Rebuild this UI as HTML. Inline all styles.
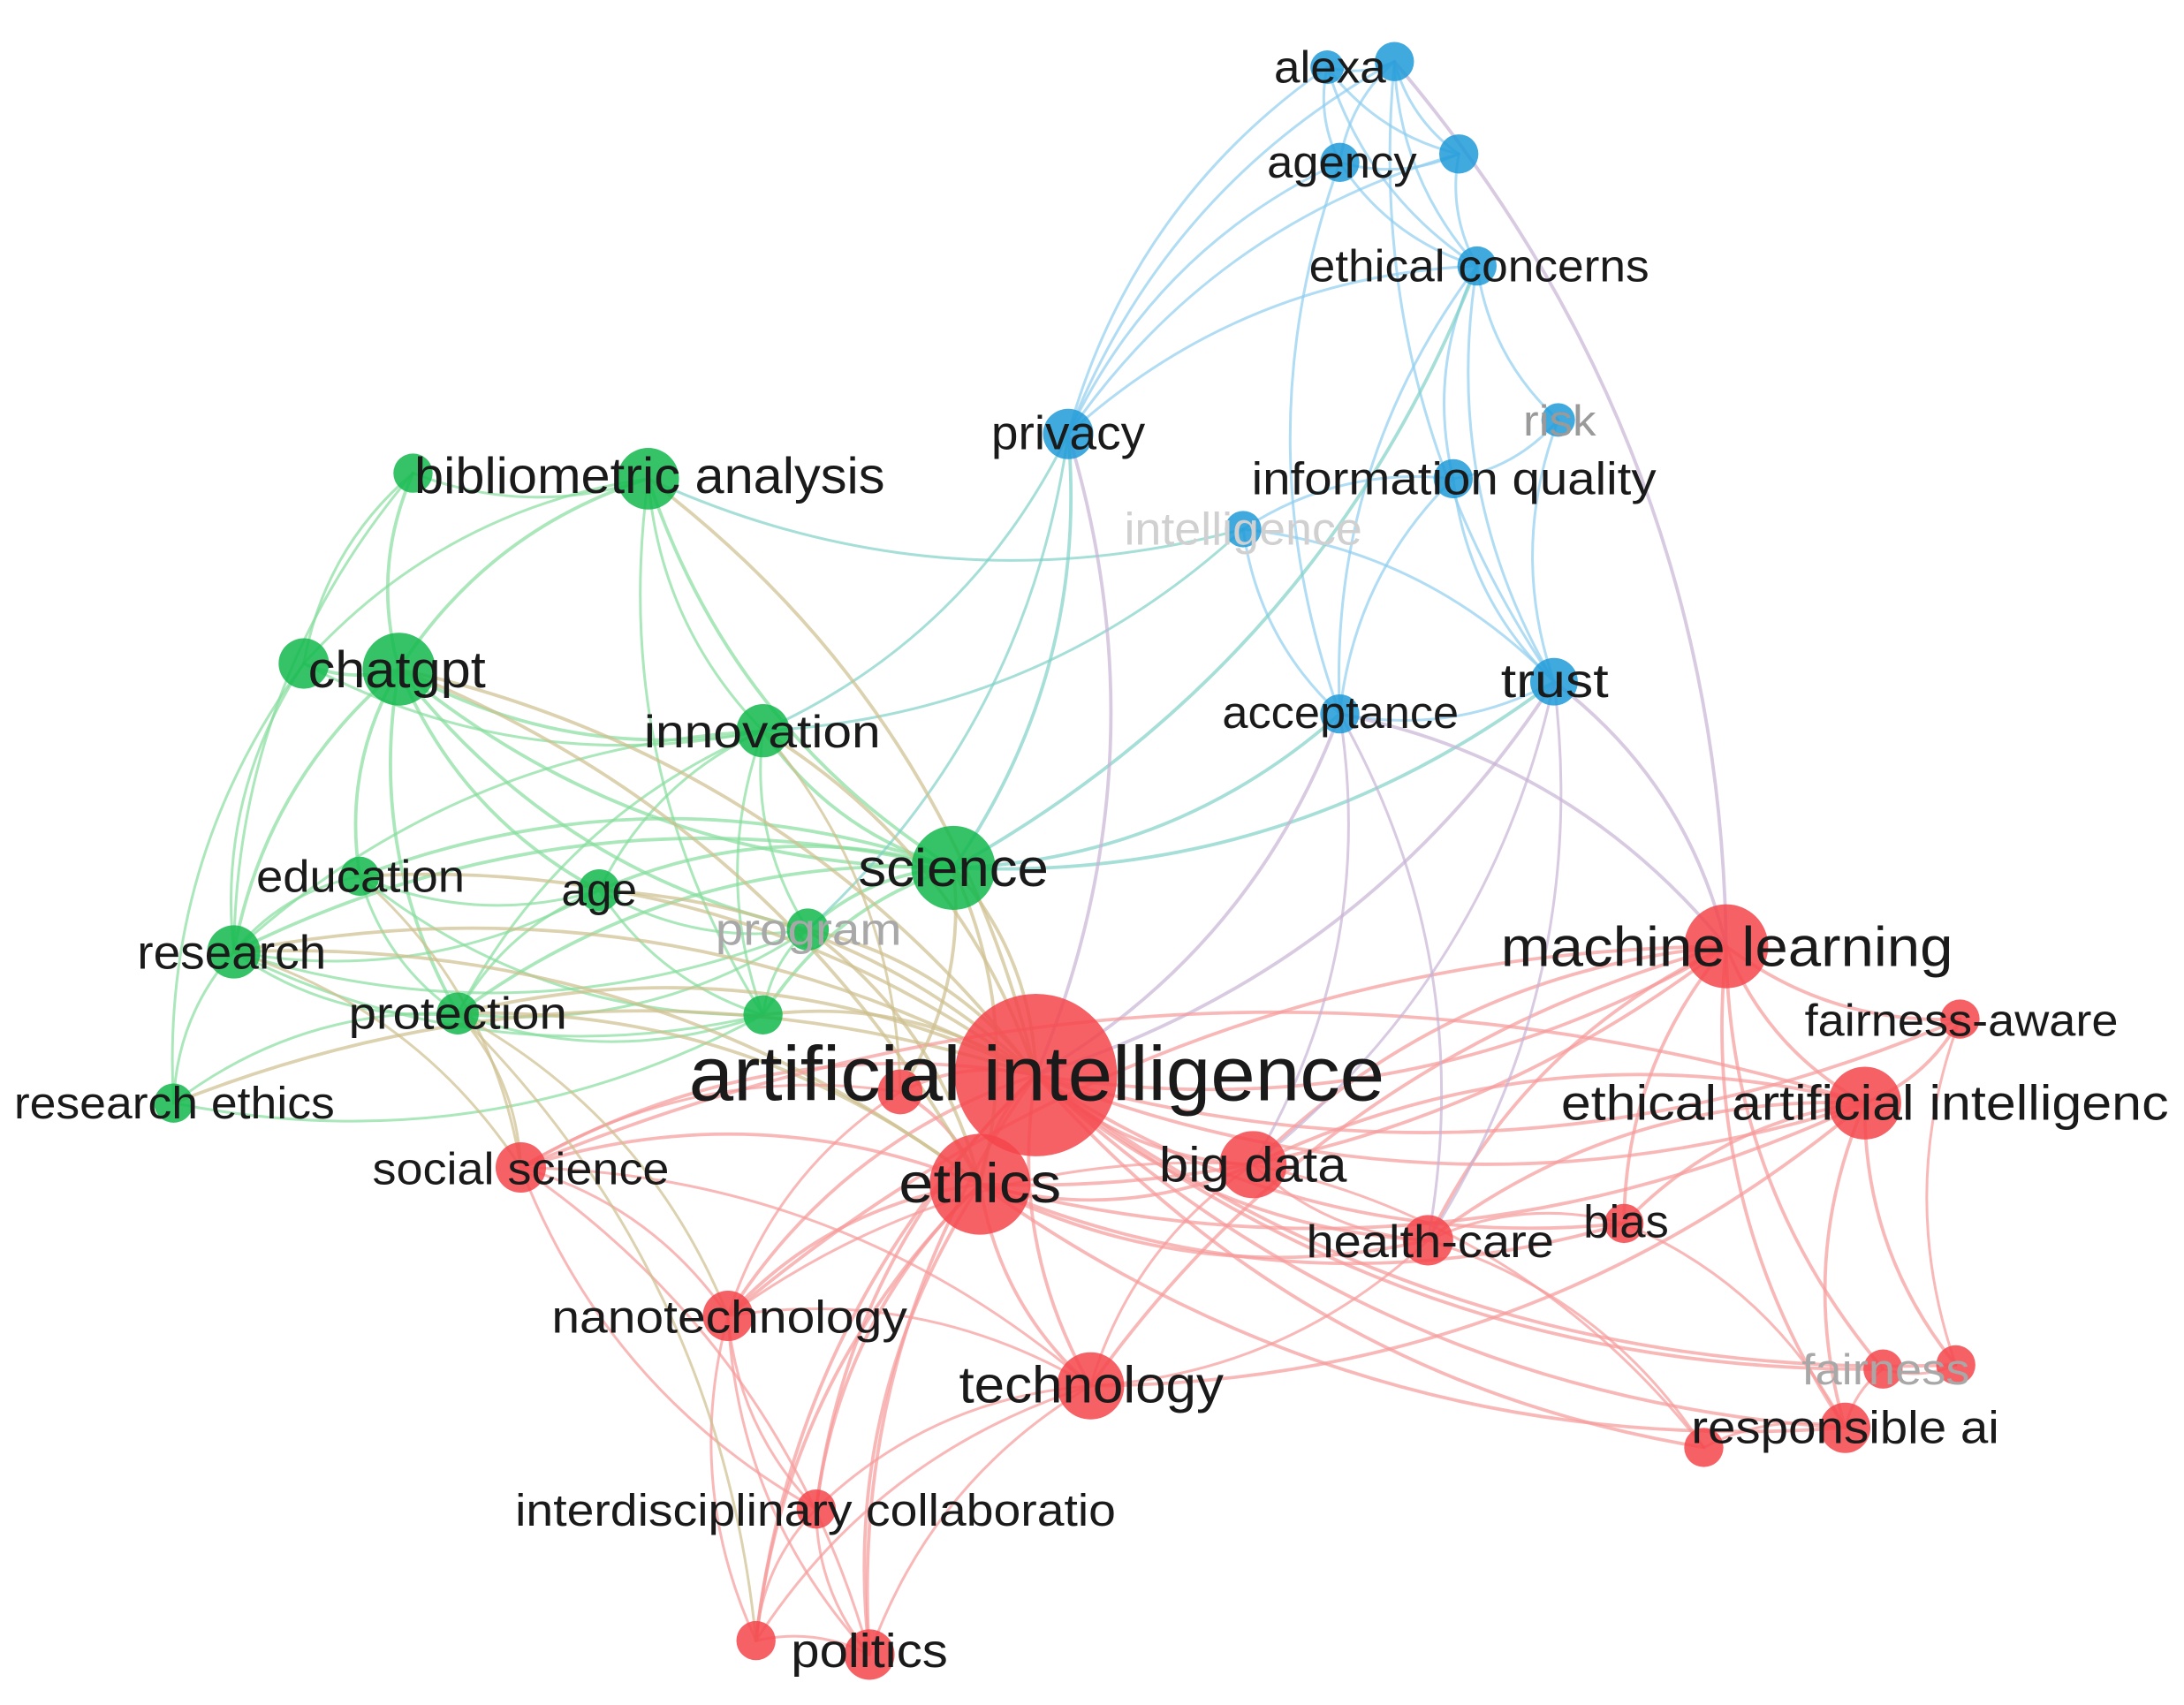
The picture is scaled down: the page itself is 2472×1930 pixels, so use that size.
<!DOCTYPE html>
<html><head><meta charset="utf-8">
<style>
html,body{margin:0;padding:0;background:#fff;}
svg{display:block;}
text{font-family:"Liberation Sans","DejaVu Sans",sans-serif;fill:#1a1a1a;}
</style></head>
<body>
<svg id="s" width="2472" height="1930" viewBox="0 0 1560 1218" preserveAspectRatio="none" xmlns="http://www.w3.org/2000/svg">
<rect width="1560" height="1218" fill="#fff"/>
<g id="edges" fill="none" stroke-linecap="round"></g>
<g id="nodes"></g>
<g id="labels" lengthAdjust="spacingAndGlyphs">
<text x="910" y="59" font-size="32" lengthAdjust="spacingAndGlyphs" textLength="80">alexa</text>
<text x="905" y="127" font-size="32" lengthAdjust="spacingAndGlyphs" textLength="107">agency</text>
<text x="935" y="201" font-size="32" lengthAdjust="spacingAndGlyphs" textLength="243">ethical concerns</text>
<text x="708" y="321" font-size="34" lengthAdjust="spacingAndGlyphs" textLength="110">privacy</text>
<text x="1088" y="311" font-size="31" style="fill:#9a9a9a" lengthAdjust="spacingAndGlyphs" textLength="52">risk</text>
<text x="894" y="353" font-size="33" lengthAdjust="spacingAndGlyphs" textLength="289">information quality</text>
<text x="803" y="389" font-size="33" style="fill:#d0d0d0" lengthAdjust="spacingAndGlyphs" textLength="170">intelligence</text>
<text x="1072" y="498" font-size="34" lengthAdjust="spacingAndGlyphs" textLength="77">trust</text>
<text x="873" y="520" font-size="32" lengthAdjust="spacingAndGlyphs" textLength="169">acceptance</text>
<text x="296" y="352" font-size="36" lengthAdjust="spacingAndGlyphs" textLength="336">bibliometric analysis</text>
<text x="220" y="491" font-size="37" lengthAdjust="spacingAndGlyphs" textLength="127">chatgpt</text>
<text x="460" y="534" font-size="33" lengthAdjust="spacingAndGlyphs" textLength="169">innovation</text>
<text x="613" y="633" font-size="38" lengthAdjust="spacingAndGlyphs" textLength="136">science</text>
<text x="183" y="637" font-size="32" lengthAdjust="spacingAndGlyphs" textLength="149">education</text>
<text x="401" y="647" font-size="33" lengthAdjust="spacingAndGlyphs" textLength="54">age</text>
<text x="511" y="675" font-size="32" style="fill:#a8a8a8" lengthAdjust="spacingAndGlyphs" textLength="133">program</text>
<text x="98" y="692" font-size="34" lengthAdjust="spacingAndGlyphs" textLength="135">research</text>
<text x="249" y="735" font-size="32" lengthAdjust="spacingAndGlyphs" textLength="156">protection</text>
<text x="10" y="799" font-size="32" lengthAdjust="spacingAndGlyphs" textLength="229">research ethics</text>
<text x="492" y="786" font-size="55" lengthAdjust="spacingAndGlyphs" textLength="497">artificial intelligence</text>
<text x="1072" y="690" font-size="40" lengthAdjust="spacingAndGlyphs" textLength="323">machine learning</text>
<text x="1289" y="740" font-size="32" lengthAdjust="spacingAndGlyphs" textLength="224">fairness-aware</text>
<text x="1115" y="800" font-size="35" lengthAdjust="spacingAndGlyphs" textLength="434">ethical artificial intelligenc</text>
<text x="266" y="846" font-size="32" lengthAdjust="spacingAndGlyphs" textLength="212">social science</text>
<text x="642" y="859" font-size="40" lengthAdjust="spacingAndGlyphs" textLength="116">ethics</text>
<text x="828" y="844" font-size="35" lengthAdjust="spacingAndGlyphs" textLength="134">big data</text>
<text x="933" y="898" font-size="33" lengthAdjust="spacingAndGlyphs" textLength="177">health-care</text>
<text x="1131" y="884" font-size="33" lengthAdjust="spacingAndGlyphs" textLength="61">bias</text>
<text x="394" y="952" font-size="33" lengthAdjust="spacingAndGlyphs" textLength="254">nanotechnology</text>
<text x="685" y="1002" font-size="37" lengthAdjust="spacingAndGlyphs" textLength="189">technology</text>
<text x="1287" y="989" font-size="31" style="fill:#a8a8a8" lengthAdjust="spacingAndGlyphs" textLength="120">fairness</text>
<text x="1208" y="1031" font-size="33" lengthAdjust="spacingAndGlyphs" textLength="220">responsible ai</text>
<text x="368" y="1090" font-size="32" lengthAdjust="spacingAndGlyphs" textLength="429">interdisciplinary collaboratio</text>
<text x="565" y="1191" font-size="34" lengthAdjust="spacingAndGlyphs" textLength="112">politics</text>
</g>
</svg>
<script>
var N={
alexa:[948,48,12,'b'],alexa2:[996,44,14,'b'],agency:[957,116,14,'b'],ag2:[1042,110,14,'b'],ec:[1055,190,14,'b'],
priv:[763,310,18,'b'],risk:[1113,300,12,'b'],iq:[1038,342,14,'b'],intl:[888,378,13,'b'],trust:[1110,487,17,'b'],acc:[957,510,14,'b'],
bib1:[295,338,14,'g'],bib:[463,342,22,'g'],chat1:[217,474,18,'g'],chat:[285,478,26,'g'],inn:[545,522,19,'g'],sci:[681,620,30,'g'],
edu:[257,626,14,'g'],age:[428,636,15,'g'],prog:[577,664,15,'g'],res:[167,680,19,'g'],prot:[327,724,15,'g'],g7:[545,725,14,'g'],rese:[124,788,14,'g'],
AI:[740,768,58,'r'],red2:[643,780,16,'r'],ml:[1233,676,30,'r'],fa:[1400,728,14,'r'],eai:[1332,788,26,'r'],soc:[372,834,18,'r'],eth:[700,846,36,'r'],
big:[895,832,24,'r'],hc:[1020,886,18,'r'],bias:[1160,874,14,'r'],nano:[520,940,18,'r'],tech:[779,990,24,'r'],fair1:[1345,978,14,'r'],fair2:[1397,975,14,'r'],
rai:[1318,1020,18,'r'],rai2:[1217,1034,14,'r'],inter:[583,1078,14,'r'],pol1:[540,1172,14,'r'],pol:[621,1182,18,'r']};
var E=[
'alexa alexa2','alexa agency','alexa ag2','alexa ec','alexa2 agency','alexa2 ag2','alexa2 ec','agency ag2','agency ec','ag2 ec','alexa priv','alexa2 priv','agency priv','ag2 priv','ec priv','ec iq','ec risk','ec trust','iq risk','iq trust','risk trust','iq intl','intl acc','iq acc','acc trust','trust intl','alexa2 trust',
'agency acc','ec acc',
'bib1 bib','bib1 chat1','bib1 chat','bib chat1','bib chat','bib inn','bib sci','bib1 res','chat1 chat','chat inn','chat1 inn','chat sci','chat res','chat1 res','chat edu','chat prot','chat age','chat prog','inn sci','inn age','inn prog','inn prot','inn res','inn g7','sci prog','sci age','sci prot','sci res','sci edu','sci g7','edu res','edu prot','edu age','age prog','age prot','res prot','res rese','res age','res prog','res g7','prot rese','prot g7','prot prog','rese g7','edu g7','chat1 rese','bib g7','age g7','prog g7','bib intl',
'sci priv','inn priv','sci trust','sci acc','prog priv','inn intl','sci ec',
'AI eth','AI ml','AI eai','AI big','AI hc','AI bias','AI tech','AI nano','AI soc','AI inter','AI pol','AI pol1','AI rai','AI rai2','AI fair1','AI fair2','AI fa','AI red2','AI sci','AI inn','AI chat','AI res','AI prot','AI edu','AI age','AI prog','AI g7','AI bib','AI priv','AI trust','AI acc','AI rese',
'eth ml','eth eai','eth big','eth hc','eth tech','eth nano','eth soc','eth inter','eth pol','eth pol1','eth rai','eth bias','eth sci','eth prog','eth res','eth prot','eth red2','eth chat',
'ml eai','ml fa','ml big','ml hc','ml bias','ml rai','ml fair1','ml trust','ml acc','ml alexa2','ml tech','ml nano','eai fa','eai big','eai hc','eai fair2','eai rai','eai bias','eai soc','fa fair2','fair1 fair2','fair1 rai','rai rai2','rai2 hc','rai2 big','rai bias','bias hc','big hc','big tech','big nano','big trust','big acc','tech nano','tech inter','tech pol','tech pol1','tech soc','tech hc','nano inter','nano pol','nano pol1','nano soc','inter pol','inter pol1','pol pol1','soc prot','soc res','soc edu','soc inter','red2 nano','red2 soc','hc acc','hc trust','tech eai','nano prot','red2 sci','red2 inn','pol soc','pol1 prot'
];
var col={r:'#f79a9a',g:'#86dd9c',b:'#8fcdf0'};
var mix={'br':'#c8b4d4','rb':'#c8b4d4','gr':'#cdbf8e','rg':'#cdbf8e','gb':'#80d2c8','bg':'#80d2c8'};
var nc={r:'#f5454b',g:'#13b84e',b:'#1f9ad8'};
var ns='http://www.w3.org/2000/svg',eg=document.getElementById('edges'),ng=document.getElementById('nodes');
E.forEach(function(e){var p=e.split(' '),a=N[p[0]],b=N[p[1]];if(!a||!b)return;
var dx=b[0]-a[0],dy=b[1]-a[1],mx=(a[0]+b[0])/2,my=(a[1]+b[1])/2,k=0.18;
var cx=mx-dy*k,cy=my+dx*k;
var c=a[3]==b[3]?col[a[3]]:mix[a[3]+b[3]];
var el=document.createElementNS(ns,'path');
el.setAttribute('d','M'+a[0]+' '+a[1]+'Q'+cx+' '+cy+' '+b[0]+' '+b[1]);
el.setAttribute('stroke',c);el.setAttribute('stroke-width',(a[2]>25||b[2]>25)?2.4:1.9);el.setAttribute('stroke-opacity',0.7);
eg.appendChild(el);});
for(var k in N){var n=N[k];var c=document.createElementNS(ns,'circle');
c.setAttribute('cx',n[0]);c.setAttribute('cy',n[1]);c.setAttribute('r',n[2]);c.setAttribute('fill',nc[n[3]]);c.setAttribute('fill-opacity',0.85);ng.appendChild(c);}
</script>
</body></html>
